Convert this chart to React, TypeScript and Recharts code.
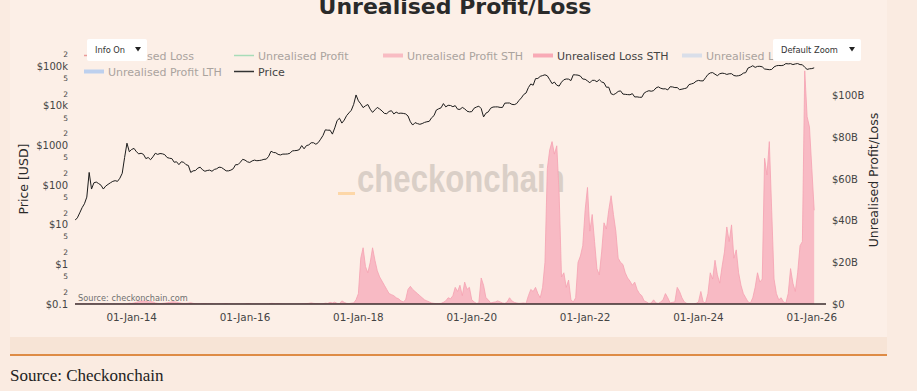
import { ComposedChart, Area, Line, XAxis, YAxis } from 'recharts';

// half-month samples (1st and 16th of each month) starting 01-Jan-2013
const START_YEAR = 2013;
const STEPS_PER_YEAR = 24;

// BTC price [USD]
const price2013 = [13, 15, 20, 27, 34, 50, 210, 80, 115, 120, 110, 100, 80, 95, 105, 115, 125, 130, 125, 150, 200, 500, 1150, 700];
const price2014 = [800, 850, 700, 620, 640, 600, 470, 500, 440, 520, 640, 600, 630, 620, 590, 500, 480, 470, 380, 390, 330, 390, 380, 330];
const price2015 = [315, 210, 230, 235, 270, 285, 245, 225, 235, 240, 225, 250, 260, 285, 280, 255, 230, 230, 240, 260, 330, 330, 380, 450];
const price2016 = [430, 390, 375, 410, 430, 415, 420, 430, 450, 455, 535, 720, 670, 660, 600, 580, 610, 610, 615, 640, 735, 745, 755, 790];
const price2017 = [1000, 830, 1000, 1040, 1180, 1180, 1080, 1190, 1450, 1800, 2500, 2450, 2450, 1950, 2800, 4300, 4900, 3700, 4400, 5700, 6700, 7800, 11000, 19000];
const price2018 = [13500, 11300, 9100, 10100, 10900, 8300, 6900, 8000, 9200, 8400, 7500, 6500, 6400, 7300, 7600, 6300, 7000, 6500, 6600, 6500, 6300, 5600, 4000, 3300];
const price2019 = [3800, 3600, 3450, 3600, 3850, 4000, 4100, 5050, 5700, 7900, 8500, 9000, 11500, 9500, 10400, 10300, 9600, 10200, 8300, 8200, 9200, 8500, 7400, 7100];
const price2020 = [7200, 8800, 9400, 9900, 8600, 5300, 6600, 7100, 8800, 9400, 9500, 9500, 9200, 9200, 11800, 11900, 11900, 11000, 10800, 11500, 13800, 16000, 19500, 21300];
const price2021 = [29300, 36000, 33500, 49000, 49600, 56000, 58700, 61300, 57800, 46400, 36700, 40200, 33500, 31800, 39900, 46000, 48100, 47700, 43800, 61500, 61000, 60100, 57000, 48000];
const price2022 = [47300, 43000, 38500, 44500, 44400, 41000, 46300, 40500, 38500, 29800, 29800, 20400, 19300, 20800, 23300, 24100, 20000, 19700, 19400, 19200, 20500, 16900, 17000, 16600];
const price2023 = [16600, 21200, 23100, 24300, 23600, 24400, 28500, 30400, 28100, 27000, 27200, 25500, 30600, 30300, 29200, 29200, 25900, 26600, 27500, 28400, 34700, 36100, 37700, 42300];
const price2024 = [44200, 43100, 43100, 51900, 62400, 68400, 69700, 63400, 58300, 65200, 67500, 66200, 62700, 65100, 65400, 58800, 57300, 58200, 60800, 67600, 69500, 91000, 96400, 104000];
const price2025 = [94400, 100000, 100600, 97500, 86000, 84300, 82500, 83700, 97000, 103600, 105700, 104500, 107100, 117700, 115700, 117400, 111200, 115400, 118000, 111000, 110000, 95000, 84000, 87000];
const price2026 = [88000, 92000];

// Unrealised Loss STH [$B]
const lossSth2013 = [0, 0, 0, 0, 0, 0, 0.05, 0.1, 0.05, 0.05, 0.03, 0.05, 0.08, 0.05, 0.03, 0.02, 0.02, 0.02, 0.03, 0.02, 0.01, 0.02, 0.05, 0.4];
const lossSth2014 = [0.3, 0.5, 0.8, 1.2, 1.4, 1.5, 1.3, 1.0, 1.2, 1.0, 0.5, 0.3, 0.2, 0.3, 0.4, 0.6, 0.8, 1.0, 1.1, 0.9, 0.6, 0.4, 0.3, 0.3];
const lossSth2015 = [0.4, 0.6, 0.3, 0.2, 0.1, 0.1, 0.2, 0.2, 0.1, 0.1, 0.1, 0.05, 0.05, 0.05, 0.1, 0.15, 0.2, 0.1, 0.05, 0.03, 0.02, 0.02, 0.02, 0.02];
const lossSth2016 = [0.05, 0.2, 0.15, 0.05, 0.03, 0.02, 0.02, 0.02, 0.02, 0.02, 0.05, 0.3, 0.25, 0.15, 0.2, 0.1, 0.05, 0.03, 0.02, 0.02, 0.02, 0.02, 0.02, 0.03];
const lossSth2017 = [0.1, 0.1, 0.2, 0.3, 0.5, 0.3, 0.2, 0.2, 0.1, 0.1, 0.4, 0.3, 0.8, 0.5, 0.9, 0.3, 0.2, 1.5, 0.8, 0.3, 0.2, 0.4, 0.5, 2];
const lossSth2018 = [5, 22, 27, 18, 15, 20, 27, 21, 16, 13, 11, 9, 7, 5, 4.5, 4, 3, 2.5, 1.5, 1, 2, 7, 8.5, 7];
const lossSth2019 = [6, 5, 4, 3, 2, 1.5, 1, 0.5, 0.3, 0.2, 0.2, 0.3, 0.8, 1.5, 3, 2.5, 4, 8, 6, 9, 4, 10.5, 7, 8];
const lossSth2020 = [2, 1, 0.3, 0.5, 12.5, 9, 3, 2, 0.5, 0.8, 1, 1.5, 1, 0.5, 0.3, 1, 3, 1.5, 0.8, 0.5, 0.3, 0.4, 0.5, 0.3];
const lossSth2021 = [4, 7, 6, 8, 5, 3, 8, 20, 65, 74, 78, 72, 76, 53, 13, 15, 8, 11.5, 2, 1, 3, 20, 23, 28];
const lossSth2022 = [45, 56, 35, 43, 30, 17, 14, 25, 39, 36, 45, 52, 43, 35, 22, 20, 19, 15, 12.5, 11, 9, 10.5, 7, 5];
const lossSth2023 = [4, 1.5, 1, 0.3, 0.5, 2, 0.5, 0.3, 1, 2, 5, 3, 0.5, 0.8, 1, 8, 6, 3, 1, 0.3, 0.1, 0.1, 0.1, 0.3];
const lossSth2024 = [1, 6, 1, 0.5, 5, 15, 12, 21, 14, 10, 18, 25, 37, 30, 38, 22, 26, 15, 9, 5, 3, 1, 0.5, 3];
const lossSth2025 = [8, 15, 10.5, 12, 70, 62, 78, 45, 12, 5, 2, 3, 1, 0.5, 5, 17, 10, 6, 15, 28, 30, 112, 90, 85];
const lossSth2026 = [65, 45];

const PRICE = [
  ...price2013, ...price2014, ...price2015, ...price2016, ...price2017, ...price2018, ...price2019,
  ...price2020, ...price2021, ...price2022, ...price2023, ...price2024, ...price2025, ...price2026,
];
const LOSS_STH = [
  ...lossSth2013, ...lossSth2014, ...lossSth2015, ...lossSth2016, ...lossSth2017, ...lossSth2018, ...lossSth2019,
  ...lossSth2020, ...lossSth2021, ...lossSth2022, ...lossSth2023, ...lossSth2024, ...lossSth2025, ...lossSth2026,
];

const X_TICKS = [2014, 2016, 2018, 2020, 2022, 2024, 2026];
const PRICE_TICKS = [0.1, 0.2, 0.5, 1, 2, 5, 10, 20, 50, 100, 200, 500, 1000, 2000, 5000, 10000, 20000, 50000, 100000, 200000];
const PNL_TICKS = [0, 20, 40, 60, 80, 100];

const data = PRICE.map((price, i) => ({
  t: START_YEAR + i / STEPS_PER_YEAR,
  price,
  lossSth: LOSS_STH[i],
}));

const SANS = '"DejaVu Sans", Verdana, sans-serif';

function PriceTick({ x, y, payload }: any) {
  const v = payload.value;
  const exp = Math.log10(v);
  const isDecade = Math.abs(exp - Math.round(exp)) < 1e-6;
  if (!isDecade) {
    const lead = Math.round(v / Math.pow(10, Math.floor(exp + 1e-9)));
    return (
      <text x={x} y={y} dy="0.35em" textAnchor="end" fontSize={7.5} fontFamily={SANS} fill="#444">
        {lead}
      </text>
    );
  }
  const label = v >= 10000 ? `$${v / 1000}k` : `$${v}`;
  return (
    <text x={x} y={y} dy="0.35em" textAnchor="end" fontSize={10} fontFamily={SANS} fill="#444">
      {label}
    </text>
  );
}

function PnlTick({ x, y, payload }: any) {
  const label = payload.value === 0 ? '$0' : `$${payload.value}B`;
  return (
    <text x={x} y={y} dy="0.35em" textAnchor="start" fontSize={10} fontFamily={SANS} fill="#444">
      {label}
    </text>
  );
}

function DateTick({ x, y, payload }: any) {
  const yy = String(payload.value).slice(2);
  return (
    <text x={x} y={y} dy={8.5} textAnchor="middle" fontSize={10.4} fontFamily={SANS} fill="#444">
      {`01-Jan-${yy}`}
    </text>
  );
}

function LegendItem({ x, y, color, width, label, active }: any) {
  return (
    <g>
      <line x1={x} x2={x + 20} y1={y - 4} y2={y - 4} stroke={color} strokeWidth={width} />
      <text x={x + 24} y={y} fontSize={11} fontFamily={SANS} fill={active ? '#444' : '#aaa39e'}>
        {label}
      </text>
    </g>
  );
}

function Dropdown({ x, w, label }: any) {
  return (
    <g>
      <rect x={x} y={39} width={w} height={22} rx={2} fill="#fff" />
      <text x={x + 8} y={52.5} fontSize={8.3} fontFamily={SANS} fill="#333">
        {label}
      </text>
      <path d={`M${x + w - 12} 47 L${x + w - 6} 47 L${x + w - 9} 51.5 Z`} fill="#222" />
    </g>
  );
}

export default function App() {
  return (
    <div style={{ position: 'absolute', left: 0, top: 0, width: 917, height: 391, background: '#faebe1', overflow: 'hidden' }}>
      {/* panel, watermark, footer */}
      <svg width={917} height={391} style={{ position: 'absolute', left: 0, top: 0 }}>
        <rect x={10} y={0} width={877} height={337} fill="#fcefe7" />
        <rect x={10} y={337} width={877} height={17} fill="#f7e4d6" />
        <rect x={10} y={354} width={877} height={2} fill="#de8b45" />
        <text x={10} y={381} fontSize={17} fontFamily='"Liberation Serif", serif' fill="#222">
          Source: Checkonchain
        </text>
        <text
          x={357}
          y={192}
          fontSize={38}
          fontWeight="bold"
          fontFamily='"Liberation Sans", Arial, sans-serif'
          fill="#dacfc7"
          transform="translate(357 0) scale(0.82 1) translate(-357 0)"
        >
          checkonchain
        </text>
        <rect x={338} y={192} width={17} height={3} fill="#fdd7a8" />
      </svg>

      <div style={{ position: 'absolute', left: 0, top: 0 }}>
        <ComposedChart width={917} height={330} data={data} margin={{ top: 50, right: 0, bottom: 0, left: 0 }}>
          <XAxis
            dataKey="t"
            type="number"
            domain={[2013, 2026.25]}
            ticks={X_TICKS}
            interval={0}
            allowDataOverflow
            height={26}
            tickSize={6}
            tickMargin={2}
            tickLine={false}
            axisLine={{ stroke: '#3a2b2d', strokeWidth: 1.5 }}
            tick={<DateTick />}
          />
          <YAxis
            yAxisId="left"
            orientation="left"
            scale="log"
            domain={[0.1, 259400]}
            allowDataOverflow
            ticks={PRICE_TICKS}
            interval={0}
            width={75}
            tickSize={6}
            tickMargin={1}
            tickLine={false}
            axisLine={false}
            tick={<PriceTick />}
          />
          <YAxis
            yAxisId="right"
            orientation="right"
            domain={[0, 122]}
            allowDataOverflow
            ticks={PNL_TICKS}
            interval={0}
            width={91}
            tickSize={4}
            tickMargin={2}
            tickLine={false}
            axisLine={false}
            tick={<PnlTick />}
          />
          <Area
            yAxisId="right"
            type="linear"
            dataKey="lossSth"
            stroke="#f5a1b1"
            strokeWidth={0.8}
            fill="#f8bac4"
            fillOpacity={1}
            dot={false}
            activeDot={false}
            isAnimationActive={false}
          />
          <Line
            yAxisId="left"
            type="linear"
            dataKey="price"
            stroke="#1c1c1c"
            strokeWidth={1}
            dot={false}
            activeDot={false}
            isAnimationActive={false}
          />
        </ComposedChart>
      </div>

      {/* title, legend, controls, axis titles */}
      <svg width={917} height={391} style={{ position: 'absolute', left: 0, top: 0, pointerEvents: 'none' }}>
        <text x={455} y={14} textAnchor="middle" fontSize={22} fontWeight="bold" fontFamily={SANS} fill="#2a2a2a">
          Unrealised Profit/Loss
        </text>

        <LegendItem x={84} y={59.5} color="#e99a9a" width={1.5} label="Unrealised Loss" />
        <LegendItem x={234} y={59.5} color="#a8dcb8" width={1.5} label="Unrealised Profit" />
        <LegendItem x={383} y={59.5} color="#f8bcc3" width={4} label="Unrealised Profit STH" />
        <LegendItem x={533} y={59.5} color="#f8aab6" width={4} label="Unrealised Loss STH" active />
        <LegendItem x={682} y={59.5} color="#d9dee9" width={4} label="Unrealised Loss LTH" />
        <LegendItem x={84} y={75.5} color="#bdd0ee" width={4} label="Unrealised Profit LTH" />
        <LegendItem x={234} y={75.5} color="#333" width={1.5} label="Price" active />

        <Dropdown x={87} w={60} label="Info On" />
        <Dropdown x={773} w={88} label="Default Zoom" />

        <text
          x={23.5}
          y={179}
          textAnchor="middle"
          dominantBaseline="central"
          transform="rotate(-90 23.5 179)"
          fontSize={12.5}
          fontFamily={SANS}
          fill="#2a2a2a"
        >
          Price [USD]
        </text>
        <text
          x={873.5}
          y={180}
          textAnchor="middle"
          dominantBaseline="central"
          transform="rotate(-90 873.5 180)"
          fontSize={12.5}
          fontFamily={SANS}
          fill="#2a2a2a"
        >
          Unrealised Profit/Loss
        </text>

        <text x={78} y={300.5} fontSize={8.2} fontFamily={SANS} fill="#6f6f6f">
          Source: checkonchain.com
        </text>
      </svg>
    </div>
  );
}
